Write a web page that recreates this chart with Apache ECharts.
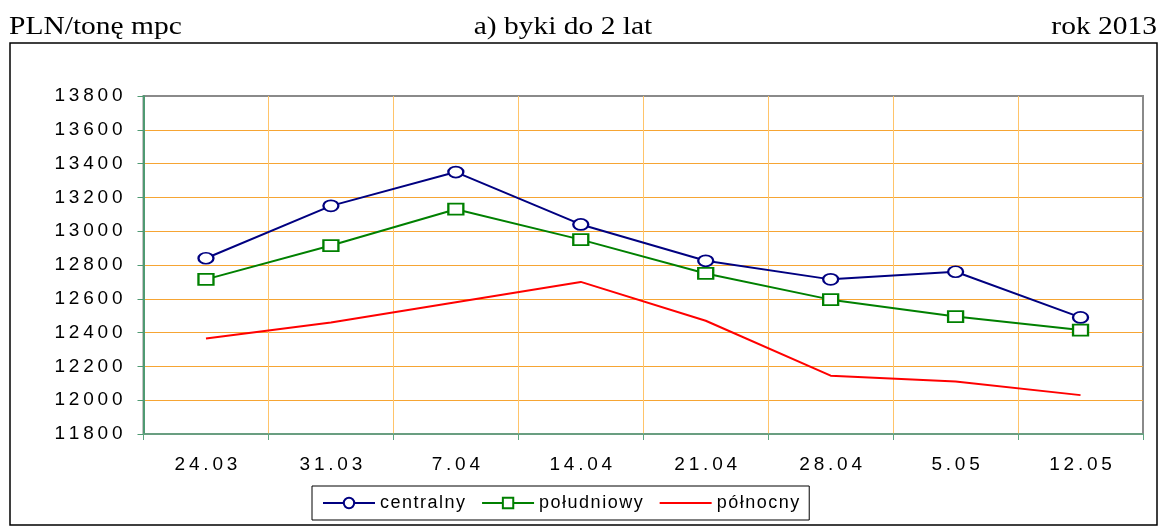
<!DOCTYPE html>
<html>
<head>
<meta charset="utf-8">
<script src="https://cdn.jsdelivr.net/npm/echarts@6/dist/echarts.min.js"></script>
<style>html,body{margin:0;padding:0;background:#fff;}#c{width:1162px;height:529px;}</style>
</head>
<body>
<div id="c"></div>
<script>
const categories = ['24.03', '31.03', '7.04', '14.04', '21.04', '28.04', '5.05', '12.05'];
const centralny = [12840, 13150, 13350, 13040, 12825, 12715, 12760, 12490];
const poludniowy = [12715, 12915, 13130, 12950, 12750, 12595, 12495, 12415];
const polnocny = [12365, 12460, 12580, 12700, 12470, 12145, 12110, 12030];
const seriesNames = ['centralny', 'południowy', 'północny'];
const titleLeft = 'PLN/tonę mpc';
const titleCenter = 'a) byki do 2 lat';
const titleRight = 'rok 2013';

function spaced(s) { return String(s).split('').join('\u2009'); }
function spacedThin(s) { return String(s).split('').join('\u200A'); }

const chart = echarts.init(document.getElementById('c'), null, {renderer: 'canvas'});
const serif = '"Liberation Serif", "Times New Roman", serif';
const sans = '"Liberation Sans", Arial, sans-serif';
chart.setOption({
  animation: false,
  backgroundColor: '#fff',
  grid: {left: 143.5, right: 19, top: 96, bottom: 95, show: true, borderColor: '#8a8a8a', borderWidth: 2, backgroundColor: 'transparent'},
  xAxis: {
    type: 'category', data: categories, boundaryGap: true,
    axisLine: {lineStyle: {color: '#5fa57f', width: 1.5}},
    axisTick: {show: true, inside: false, length: 6, lineStyle: {color: '#5fa57f'}},
    splitLine: {show: true, showMinLine: false, showMaxLine: false, lineStyle: {color: '#ffc46a', width: 1}},
    axisLabel: {margin: 21, fontFamily: sans, fontSize: 19, color: '#000', formatter: spaced}
  },
  yAxis: {
    type: 'value', min: 11800, max: 13800, interval: 200,
    axisLine: {show: true, lineStyle: {color: '#4f9a72', width: 2}},
    axisTick: {show: true, inside: false, length: 6, lineStyle: {color: '#4f9a72'}},
    splitLine: {show: true, showMinLine: false, showMaxLine: false, lineStyle: {color: '#f6a534', width: 1}},
    axisLabel: {margin: 21, fontFamily: sans, fontSize: 19, color: '#000', formatter: spaced}
  },
  legend: {
    left: 312, top: 486, orient: 'horizontal',
    padding: [8, 10, 8, 10], itemGap: 16, itemWidth: 52, itemHeight: 13, itemTextGap: 6,
    borderColor: '#000', borderWidth: 1, borderRadius: 0,
    textStyle: {fontFamily: sans, fontSize: 18, color: '#000'},
    formatter: spacedThin,
    data: [
      {name: seriesNames[0]},
      {name: seriesNames[1]},
      {name: seriesNames[2], itemStyle: {opacity: 0}}
    ]
  },
  series: [
    {name: seriesNames[0], type: 'line', data: centralny, color: '#000080',
     symbol: 'emptyCircle', symbolSize: [15, 11], lineStyle: {width: 2, color: '#000080'},
     itemStyle: {color: '#000080', borderColor: '#000080', borderWidth: 2}},
    {name: seriesNames[1], type: 'line', data: poludniowy, color: '#008000',
     symbol: 'emptyRect', symbolSize: [15, 11], lineStyle: {width: 2, color: '#008000'},
     itemStyle: {color: '#008000', borderColor: '#008000', borderWidth: 2}},
    {name: seriesNames[2], type: 'line', data: polnocny, color: '#ff0000',
     symbol: 'none', showSymbol: false, lineStyle: {width: 2, color: '#ff0000'}}
  ],
  graphic: [
    {type: 'rect', silent: true, z: -1, shape: {x: 10, y: 43, width: 1147, height: 482},
     style: {fill: 'none', stroke: '#000', lineWidth: 1.5}},
    {type: 'text', x: 9, y: 40, scaleX: 1.18, style: {text: titleLeft, fontFamily: serif, fontSize: 25, fill: '#000', align: 'left', verticalAlign: 'bottom'}},
    {type: 'text', x: 563, y: 40, scaleX: 1.18, style: {text: titleCenter, fontFamily: serif, fontSize: 25, fill: '#000', align: 'center', verticalAlign: 'bottom'}},
    {type: 'text', x: 1157, y: 40, scaleX: 1.18, style: {text: titleRight, fontFamily: serif, fontSize: 25, fill: '#000', align: 'right', verticalAlign: 'bottom'}}
  ]
});
</script>
</body>
</html>
